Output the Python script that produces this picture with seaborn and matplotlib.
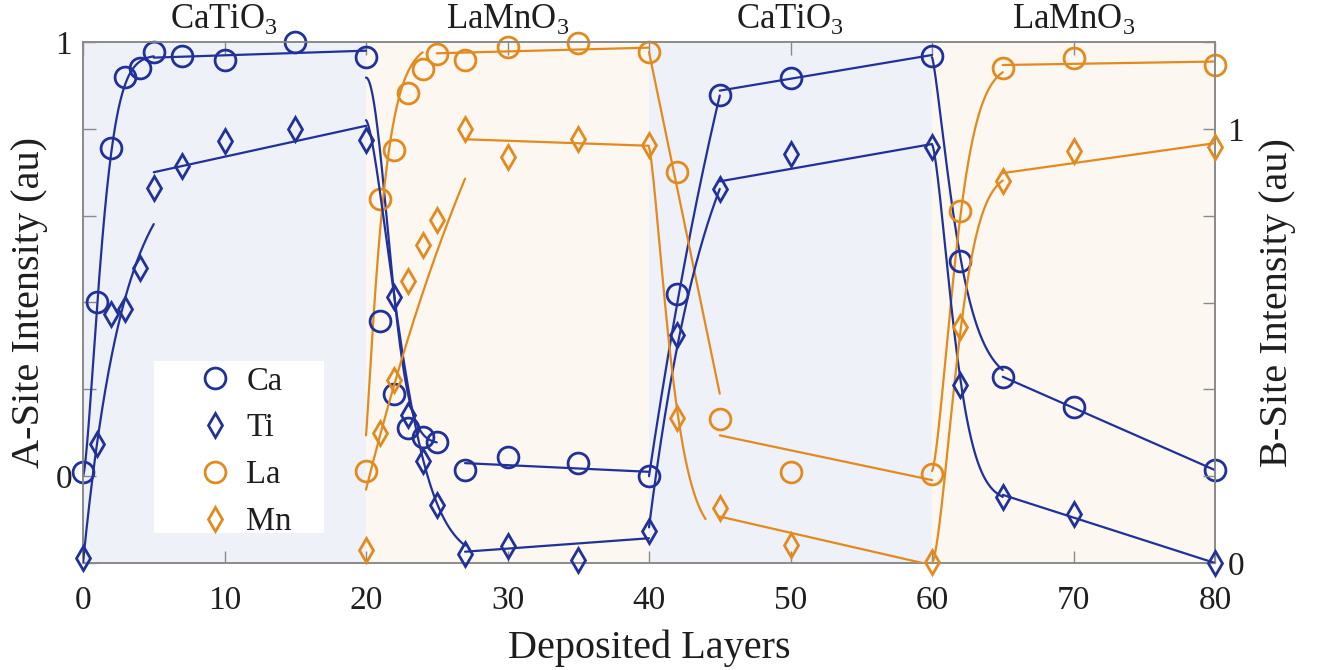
import numpy as np
import matplotlib
matplotlib.use("Agg")
import matplotlib.pyplot as plt
import seaborn as sns
from matplotlib.lines import Line2D
from matplotlib.patches import Rectangle
import matplotlib.transforms as mtrans

# ---------------- data ----------------
# A-site (left axis)
ca_x = [0, 1, 2, 3, 4, 5, 7, 10, 15, 20, 21, 22, 23, 24, 25, 27, 30, 35, 40, 42, 45, 50, 60, 62, 65, 70, 80]
ca_y = [0.01, 0.40, 0.756, 0.92, 0.94, 0.977, 0.968, 0.958, 1.0, 0.966, 0.358, 0.19, 0.11, 0.09, 0.079,
        0.015, 0.043, 0.031, 0.0, 0.42, 0.878, 0.918, 0.968, 0.496, 0.228, 0.16, 0.014]
la_x = [20, 21, 22, 23, 24, 25, 27, 30, 35, 40, 42, 45, 50, 60, 62, 65, 70, 80]
la_y = [0.012, 0.638, 0.752, 0.882, 0.937, 0.973, 0.958, 0.989, 0.997, 0.978, 0.701, 0.131, 0.01, 0.005,
        0.61, 0.939, 0.962, 0.947]
# B-site (right axis)
ti_x = [0, 1, 2, 3, 4, 5, 7, 10, 15, 20, 22, 23, 24, 25, 27, 30, 35, 40, 42, 45, 50, 60, 62, 65, 70, 80]
ti_y = [0.011, 0.273, 0.573, 0.586, 0.679, 0.863, 0.915, 0.971, 1.0, 0.975, 0.612, 0.342, 0.236, 0.134,
        0.02, 0.039, 0.008, 0.074, 0.525, 0.862, 0.942, 0.959, 0.41, 0.153, 0.114, 0.0]
mn_x = [20, 21, 22, 23, 24, 25, 27, 30, 35, 40, 42, 45, 50, 60, 62, 65, 70, 80]
mn_y = [0.031, 0.299, 0.421, 0.649, 0.732, 0.791, 1.0, 0.936, 0.976, 0.963, 0.335, 0.126, 0.041, 0.003,
        0.543, 0.879, 0.948, 0.959]

# fitted curves: exponential segments (x_start, x_end, y_start, y_inf, scale, power)
ca_fit_exp = [(0, 5, 0.0, 0.97, 1.55, 1.5), (20, 25, 0.918, 0.075, 2.1, 2.0),
              (40, 45, 0.0, 2.40, 11.0, 1.0), (60, 65, 0.965, 0.21, 2.1, 1.3)]
ti_fit_exp = [(0, 5, 0.0, 0.95, 2.9, 1.0), (20, 27, 1.02, 0.005, 3.12, 1.5),
              (40, 45, 0.082, 1.244, 4.5, 1.0), (60, 65, 0.964, 0.14, 1.92, 1.5)]
la_fit_exp = [(20, 24, 0.094, 1.0, 1.3, 1.15), (60, 65, 0.012, 0.95, 2.03, 1.5)]
mn_fit_exp = [(20, 27, 0.169, 1.989, 14.0, 1.0), (40, 44, 0.957, 0.05, 1.86, 1.38),
              (60, 65, 0.0, 0.9, 2.15, 1.6)]
# fitted curves: linear segments (x_start, x_end, y_start, y_end)
ca_fit_lin = [(5, 20, 0.964, 0.980), (27, 40, 0.03, 0.01), (45, 60, 0.888, 0.970), (65, 80, 0.229, 0.014)]
ti_fit_lin = [(5, 20, 0.90, 1.007), (27, 40, 0.026, 0.057), (45, 60, 0.879, 0.965), (65, 80, 0.157, 0.0)]
la_fit_lin = [(25, 40, 0.974, 0.987), (40, 45, 0.977, 0.19), (45, 60, 0.094, -0.009), (65, 80, 0.947, 0.955)]
mn_fit_lin = [(27, 40, 0.976, 0.961), (45, 60, 0.107, -0.005), (65, 80, 0.898, 0.967)]

region_edges = [0, 20, 40, 60, 80]
region_names = ["CaTiO$_\\mathregular{3}$", "LaMnO$_\\mathregular{3}$",
                "CaTiO$_\\mathregular{3}$", "LaMnO$_\\mathregular{3}$"]
x_ticks = [0, 10, 20, 30, 40, 50, 60, 70, 80]
left_ticks = [-0.2, 0.0, 0.2, 0.4, 0.6, 0.8, 1.0]
left_labels = ["", "0", "", "", "", "", "1"]
right_ticks = [0.0, 0.2, 0.4, 0.6, 0.8, 1.0, 1.2]
right_labels = ["0", "", "", "", "", "1", ""]
legend_names = ["Ca", "Ti", "La", "Mn"]

# ---------------- style ----------------
BLUE = "#20319a"
ORANGE = "#e28a1e"
REGION_COLORS = ["#eff1f8", "#fcf7f0", "#eff1f8", "#fcf7f0"]
GREY = "#8a8a8a"
TXT = "#1e1e1e"

sns.set_style("ticks")
plt.rcParams["font.family"] = ["Liberation Serif", "DejaVu Serif"]
plt.rcParams["mathtext.fontset"] = "custom"
plt.rcParams["mathtext.rm"] = "Liberation Serif"

fig = plt.figure(figsize=(13.28, 6.70), dpi=100)
ax = fig.add_axes([83 / 1328, 1 - 563 / 670, (1215 - 83) / 1328, (563 - 42) / 670])
ax2 = ax.twinx()

ax.set_xlim(0, 80)
ax.set_ylim(-0.2, 1.0)
ax2.set_ylim(0.0, 1.2)

for i in range(4):
    ax.axvspan(region_edges[i], region_edges[i + 1], color=REGION_COLORS[i], lw=0, zorder=0)

LW = 1.6
MEW = 2.0


def draw_fits(axis, exp_segs, lin_segs, color):
    for (x0, x1, y0, yinf, s, p) in exp_segs:
        xs = np.linspace(x0, x1, 200)
        ys = yinf + (y0 - yinf) * np.exp(-((xs - x0) / s) ** p)
        sns.lineplot(x=xs, y=ys, ax=axis, color=color, lw=LW, estimator=None, sort=False,
                     legend=False, zorder=3)
    for (x0, x1, y0, y1) in lin_segs:
        sns.lineplot(x=[x0, x1], y=[y0, y1], ax=axis, color=color, lw=LW, estimator=None,
                     sort=False, legend=False, zorder=3)


def draw_points(axis, xs, ys, color, marker, ms):
    sns.lineplot(x=xs, y=ys, ax=axis, estimator=None, sort=False, linestyle="", marker=marker,
                 markersize=ms, markerfacecolor="none", markeredgecolor=color,
                 markeredgewidth=MEW, clip_on=False, legend=False, zorder=4)


draw_fits(ax, ca_fit_exp, ca_fit_lin, BLUE)
draw_fits(ax, la_fit_exp, la_fit_lin, ORANGE)
draw_points(ax, ca_x, ca_y, BLUE, "o", 15)
draw_points(ax, la_x, la_y, ORANGE, "o", 15)

draw_fits(ax2, ti_fit_exp, ti_fit_lin, BLUE)
draw_fits(ax2, mn_fit_exp, mn_fit_lin, ORANGE)
draw_points(ax2, ti_x, ti_y, BLUE, "d", 12.5)
draw_points(ax2, mn_x, mn_y, ORANGE, "d", 12.5)

# axes / ticks
for a in (ax, ax2):
    for sp in a.spines.values():
        sp.set_color(GREY)
        sp.set_linewidth(1.2)
        sp.set_visible(True)

ax.set_xticks(x_ticks)
ax.set_xticklabels([str(t) for t in x_ticks])
ax.set_yticks(left_ticks)
ax.set_yticklabels(left_labels)
ax2.set_yticks(right_ticks)
ax2.set_yticklabels(right_labels)

ax.tick_params(axis="x", which="both", direction="in", length=9, width=1, color=GREY,
               top=True, bottom=True, labelsize=24, labelcolor=TXT, pad=16)
ax.tick_params(axis="y", which="both", direction="in", length=9, width=1, color=GREY,
               left=True, right=False, labelsize=24, labelcolor=TXT, pad=8)
ax2.tick_params(axis="y", which="both", direction="in", length=9, width=1, color=GREY,
                right=True, left=False, labelsize=24, labelcolor=TXT, pad=9)

ax.set_xlabel("Deposited Layers", fontsize=29, color=TXT, labelpad=10)
ax.set_ylabel("A-Site Intensity (au)", fontsize=29, color=TXT)
ax2.set_ylabel("B-Site Intensity (au)", fontsize=29, color=TXT)
ax.yaxis.set_label_coords(-0.031, 0.5)
ax2.yaxis.set_label_coords(1.039, 0.5)

# region titles above the plot
trans = mtrans.blended_transform_factory(ax.transData, ax.transAxes)
for i in range(4):
    xc = 0.5 * (region_edges[i] + region_edges[i + 1])
    ax.text(xc, 1.027, region_names[i], transform=trans, ha="center", va="baseline",
            fontsize=25, color=TXT)

# legend with white box
ax2.add_patch(Rectangle(((154 - 83) / 1132, (563 - 533) / 521), 170 / 1132, 172 / 521,
                        transform=ax2.transAxes, facecolor="white", edgecolor="none",
                        zorder=9, clip_on=False))
handles = [
    Line2D([], [], ls="", marker="o", ms=15, mfc="none", mec=BLUE, mew=MEW),
    Line2D([], [], ls="", marker="d", ms=12.5, mfc="none", mec=BLUE, mew=MEW),
    Line2D([], [], ls="", marker="o", ms=15, mfc="none", mec=ORANGE, mew=MEW),
    Line2D([], [], ls="", marker="d", ms=12.5, mfc="none", mec=ORANGE, mew=MEW),
]
leg = ax2.legend(handles, legend_names, loc="upper left",
                 bbox_to_anchor=((199 - 83) / 1132, (563 - 366) / 521),
                 frameon=False, fontsize=23.5, handlelength=1.0, handletextpad=0.45,
                 borderpad=0.0, labelspacing=0.5, borderaxespad=0.0)
leg.set_zorder(10)
for t in leg.get_texts():
    t.set_color(TXT)

fig.savefig("out.png", dpi=100)
